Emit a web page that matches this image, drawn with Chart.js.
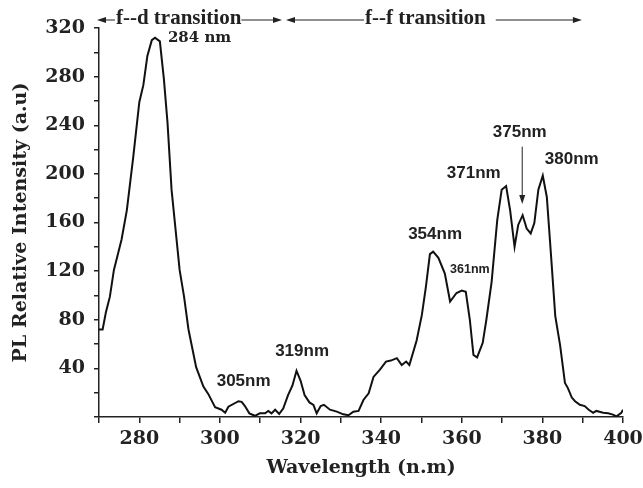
<!DOCTYPE html>
<html>
<head>
<meta charset="utf-8">
<script src="https://cdn.jsdelivr.net/npm/chart.js@4.4.1/dist/chart.umd.min.js"></script>
<style>
  html, body { margin: 0; padding: 0; background: #fff; }
  #wrap { width: 643px; height: 488px; }
</style>
</head>
<body>
<div id="wrap"><canvas id="plChart" width="643" height="488"></canvas></div>
<script>
// PL emission spectrum
const wavelength = [
  270, 270.9, 271.7, 272.7, 273.7, 275.6, 276.9, 278.5, 280, 281, 282, 283.1, 283.9, 285.1,
  286.1, 287, 288, 290, 291.1, 292.2, 294.1, 295.9, 297.1, 298.8, 300.4, 301.3, 302.1, 304.6,
  305.4, 306.2, 307.3, 308.7, 309.9, 311.2, 312, 312.8, 313.7, 314.7, 315.7, 316.9, 318, 319,
  320, 321, 322.2, 323.2, 324, 325, 325.8, 327.3, 329, 330.6, 331.9, 333.1, 334.4, 335.6,
  336.9, 338.1, 339.7, 341.2, 342.4, 343.9, 345.1, 346.2, 347, 348.8, 350.1, 351.1, 352.1,
  352.9, 354.2, 355.8, 357.1, 358.7, 360, 361, 362, 362.9, 363.8, 365.2, 366.1, 367.4, 368.8,
  369.9, 371, 372, 373.1, 374, 375.1, 376.1, 377.1, 378, 379, 380.1, 381.1, 382.1, 383.2,
  384.4, 385.6, 386.3, 387.3, 388.1, 389.3, 390.5, 391.5, 392.6, 393.4, 395.1, 396.3, 397.5,
  398.4, 399.6, 400
];
const intensity = [
  72, 72, 86, 99, 121, 146, 170, 214, 259, 273, 297, 310, 312, 309,
  278, 242, 187, 121, 99, 72, 41, 25, 19, 8, 6, 3.5, 8.5, 13,
  12.5, 9, 3, 1, 3, 3, 5, 3, 6, 2.5, 7, 18, 26, 38,
  30, 18, 12, 10, 3, 9, 10, 6, 4.4, 2.2, 1.4, 4.4, 5, 14,
  19.5, 33, 39, 45.6, 46.4, 48.4, 42.8, 45.6, 42.8, 63, 84, 107, 134,
  136, 131, 118, 95, 102, 104, 103, 80, 51, 49, 61, 80, 111, 162,
  187, 190, 170, 140, 158, 166, 155, 151, 159.5, 187, 198.5, 181, 135, 83,
  59, 28, 24, 16, 13, 10, 9, 6, 3.5, 5, 3.5, 3, 2,
  0.5, 3.5, 6
];

// peak labels: text, anchor wavelength / intensity (left edge, vertical middle)
const peakLabels = [
  { text: '284 nm', x: 287.1, y: 311.8, font: 'bold 15px "DejaVu Serif"' },
  { text: '305nm', x: 299.2, y: 29.6, font: 'bold 17px "Liberation Sans"' },
  { text: '319nm', x: 313.7, y: 53.7, font: 'bold 17px "Liberation Sans"' },
  { text: '354nm', x: 346.7, y: 150.5, font: 'bold 17px "Liberation Sans"' },
  { text: '361nm', x: 357.1, y: 121, font: 'bold 12.5px "Liberation Sans"' },
  { text: '371nm', x: 356.3, y: 200.7, font: 'bold 17px "Liberation Sans"' },
  { text: '375nm', x: 367.7, y: 234, font: 'bold 17px "Liberation Sans"' },
  { text: '380nm', x: 380.6, y: 212.2, font: 'bold 17px "Liberation Sans"' }
];
const peakArrow = { x: 375.0, from: 222.4, to: 175.2 };

// transition bands across the top
const bands = [
  { text: 'f--d transition', from: 269.5, textAt: 274.2, to: 315.4, y: 326.6 },
  { text: 'f--f transition', from: 316.4, textAt: 336.0, to: 389.8, y: 326.6, gapAfter: 10 }
];

const ink = '#222';

function arrowHead(ctx, x, y, dir) {
  // dir: 1 points right, -1 left, 2 points down
  ctx.beginPath();
  if (dir === 2) {
    ctx.moveTo(x, y);
    ctx.lineTo(x - 3, y - 9);
    ctx.lineTo(x + 3, y - 9);
  } else {
    ctx.moveTo(x, y);
    ctx.lineTo(x - dir * 9, y - 3);
    ctx.lineTo(x - dir * 9, y + 3);
  }
  ctx.closePath();
  ctx.fill();
}

const annotate = {
  id: 'annotate',
  afterDraw(chart) {
    const { ctx, scales: { x, y } } = chart;
    ctx.save();
    ctx.fillStyle = ink;
    ctx.strokeStyle = ink;
    ctx.textBaseline = 'middle';
    ctx.textAlign = 'left';

    peakLabels.forEach(l => {
      ctx.font = l.font;
      ctx.fillText(l.text, x.getPixelForValue(l.x), y.getPixelForValue(l.y));
    });

    // arrow down to 375 nm shoulder
    const ax = x.getPixelForValue(peakArrow.x);
    const ay0 = y.getPixelForValue(peakArrow.from);
    const ay1 = y.getPixelForValue(peakArrow.to);
    ctx.lineWidth = 1;
    ctx.beginPath();
    ctx.moveTo(ax, ay0);
    ctx.lineTo(ax, ay1 - 6);
    ctx.stroke();
    arrowHead(ctx, ax, ay1, 2);

    ctx.font = 'bold 21px "Liberation Serif"';
    bands.forEach(b => {
      const by = y.getPixelForValue(b.y);
      const x0 = x.getPixelForValue(b.from);
      const tx = x.getPixelForValue(b.textAt);
      const x1 = x.getPixelForValue(b.to);
      const tw = ctx.measureText(b.text).width;
      ctx.fillText(b.text, tx, by - 1);
      ctx.lineWidth = 1.2;
      ctx.beginPath();
      ctx.moveTo(x0 + 4, by);
      ctx.lineTo(tx - 1, by);
      ctx.moveTo(tx + tw + (b.gapAfter || 0), by);
      ctx.lineTo(x1 - 4, by);
      ctx.stroke();
      arrowHead(ctx, x0, by, -1);
      arrowHead(ctx, x1, by, 1);
    });
    ctx.restore();
  }
};

const tickFont = { family: '"DejaVu Serif"', size: 19, weight: 'bold' };
const titleFont = { family: '"DejaVu Serif"', size: 19, weight: 'bold' };

const ctx = document.getElementById('plChart').getContext('2d');

const plChart = new Chart(ctx, {
  type: 'line',
  data: {
    datasets: [{
      data: wavelength.map((w, i) => ({ x: w, y: intensity[i] })),
      borderColor: '#111',
      borderWidth: 2,
      pointRadius: 0,
      tension: 0,
      fill: false
    }]
  },
  options: {
    responsive: false,
    animation: false,
    layout: { padding: { top: 28, right: 0, left: 0, bottom: 0 } },
    plugins: {
      legend: { display: false },
      tooltip: { enabled: false }
    },
    scales: {
      x: {
        type: 'linear',
        min: 270,
        max: 400,
        afterFit: s => { s.height = 71; s.paddingRight = 20; },
        border: { color: ink, width: 1.5 },
        grid: { drawOnChartArea: false, color: ink, tickLength: 6, lineWidth: 1.5 },
        ticks: {
          stepSize: 10,
          autoSkip: false,
          maxRotation: 0,
          padding: 5,
          color: ink,
          font: tickFont,
          callback: v => (v % 20 === 0 ? v : '')
        },
        title: {
          display: true,
          text: 'Wavelength (n.m)',
          color: ink,
          font: titleFont,
          padding: { top: 4, bottom: 9 }
        }
      },
      y: {
        min: 0,
        max: 320,
        afterFit: s => { s.width = 99; },
        border: { color: ink, width: 1.5 },
        grid: { drawOnChartArea: false, color: ink, tickLength: 5, lineWidth: 1.5 },
        ticks: {
          stepSize: 20,
          autoSkip: false,
          padding: 9,
          color: ink,
          font: tickFont,
          callback: v => (v % 40 === 0 && v > 0 ? v : '')
        },
        title: {
          display: true,
          text: 'PL Relative Intensity (a.u)',
          color: ink,
          font: titleFont,
          padding: { top: 10, bottom: 0 }
        }
      }
    }
  },
  plugins: [annotate]
});
</script>
</body>
</html>
